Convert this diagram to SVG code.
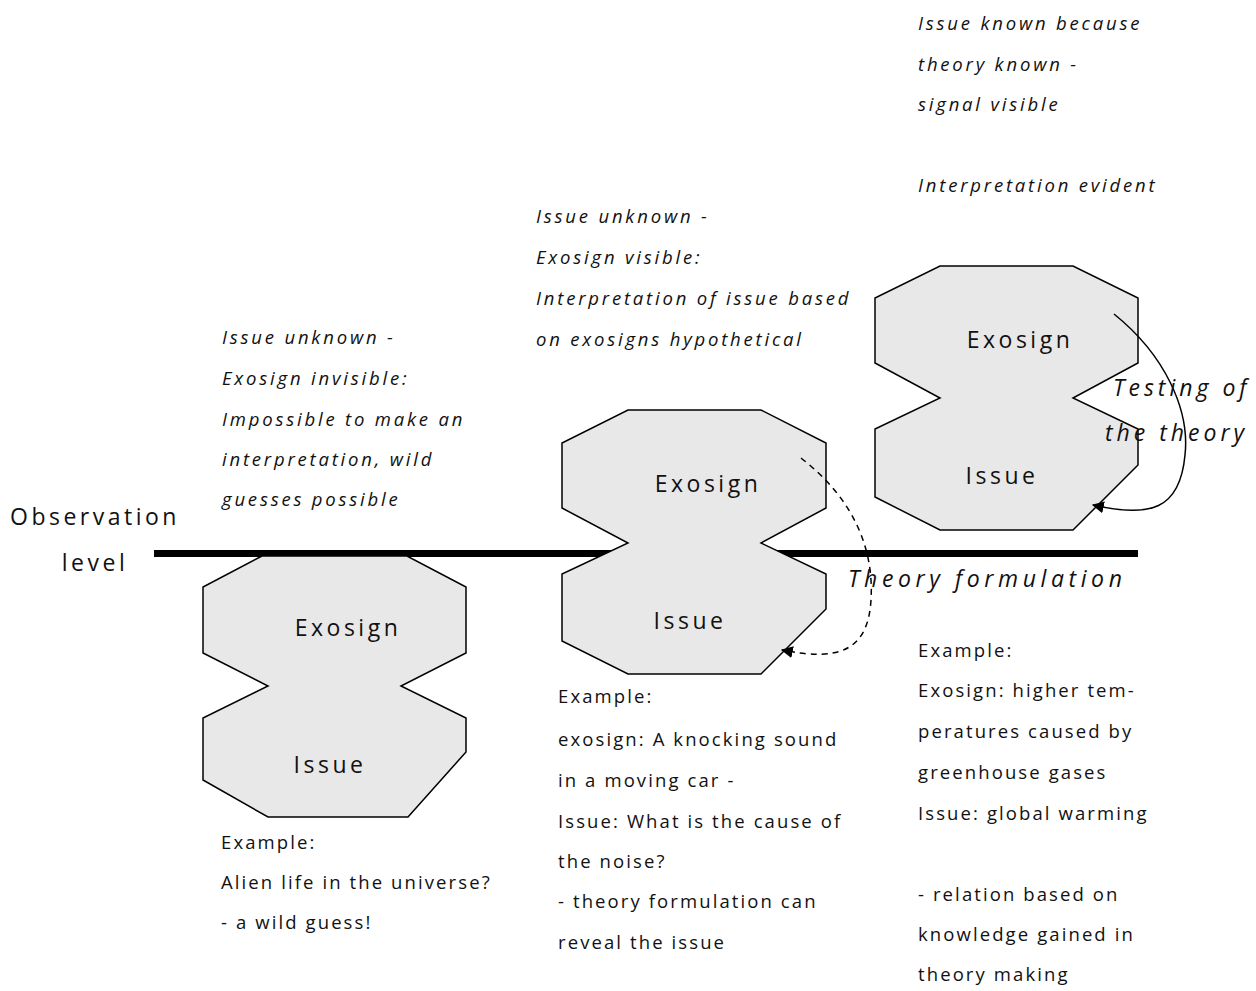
<svg xmlns="http://www.w3.org/2000/svg" width="1256" height="991" viewBox="0 0 1256 991">
<style>
.shape{fill:#e8e8e8;stroke:#000;stroke-width:1.5;stroke-linejoin:miter}
.lbl{font-family:"Open Sans","Liberation Sans",sans-serif;font-size:23px;letter-spacing:3.5px;fill:#111}
.lbli{font-family:"Open Sans","Liberation Sans",sans-serif;font-size:23px;letter-spacing:4px;font-style:italic;fill:#111}
.txt{font-family:"Open Sans","Liberation Sans",sans-serif;font-size:18.5px;letter-spacing:2.1px;fill:#111}
.txti{font-family:"Open Sans","Liberation Sans",sans-serif;font-size:18.5px;letter-spacing:2.8px;font-style:italic;fill:#111}
.conn{fill:none;stroke:#000;stroke-width:1.5}
</style>
<defs>
<marker id="ah" viewBox="0 0 10 10" refX="9" refY="5" markerWidth="12" markerHeight="12" markerUnits="userSpaceOnUse" orient="auto">
<path d="M0,0 L10,5 L0,10 Z" fill="#000"/>
</marker>
</defs>
<rect width="1256" height="991" fill="#fff"/>
<line x1="154" y1="553.5" x2="1138" y2="553.5" stroke="#000" stroke-width="7"/>
<g id="node1">
<polygon class="shape" points="262,556 407,556 466,587 466,653 401,686 466,718 466,752 408,817 268,817 203,780 203,718 268,686 203,653 203,587"/>
<text class="lbl" x="348" y="636" text-anchor="middle">Exosign</text>
<text class="lbl" x="330" y="773" text-anchor="middle">Issue</text>
</g>
<g id="node2">
<polygon class="shape" points="628,410 761,410 826,443 826,508 761,543 826,574 826,609 761,674 628,674 562,641 562,574 628,543 562,508 562,443"/>
<text class="lbl" x="708" y="492" text-anchor="middle">Exosign</text>
<text class="lbl" x="690" y="629" text-anchor="middle">Issue</text>
</g>
<g id="node3">
<polygon class="shape" points="940,266 1073,266 1138,298 1138,363 1073,398 1138,429 1138,465 1073,530 940,530 875,497 875,429 940,398 875,363 875,298"/>
<text class="lbl" x="1020" y="348" text-anchor="middle">Exosign</text>
<text class="lbl" x="1002" y="484" text-anchor="middle">Issue</text>
</g>
<g id="obs">
<text class="lbl" x="95" y="525" text-anchor="middle">Observation</text>
<text class="lbl" x="95" y="571" text-anchor="middle">level</text>
</g>
<g id="connectors">
<path class="conn" d="M801,458 C855,500 874,550 871,600 C868,650 840,662 782,650" stroke-dasharray="6,5" marker-end="url(#ah)"/>
<path class="conn" d="M1114,314 C1165,355 1190,410 1185,455 C1180,510 1150,518 1093,505" marker-end="url(#ah)"/>
</g>
<g id="labels">
<text class="lbli" x="848" y="587" style="letter-spacing:4.6px">Theory formulation</text>
<text class="lbli" x="1113" y="396">Testing of</text>
<text class="lbli" x="1105" y="441">the theory</text>
</g>
<g id="desc1">
<text class="txti" x="222" y="344">Issue unknown -</text>
<text class="txti" x="222" y="385">Exosign invisible:</text>
<text class="txti" x="222" y="426">Impossible to make an</text>
<text class="txti" x="222" y="466">interpretation, wild</text>
<text class="txti" x="222" y="506">guesses possible</text>
</g>
<g id="desc2">
<text class="txti" x="536" y="223">Issue unknown -</text>
<text class="txti" x="536" y="264">Exosign visible:</text>
<text class="txti" x="536" y="305">Interpretation of issue based</text>
<text class="txti" x="536" y="346">on exosigns hypothetical</text>
</g>
<g id="desc3">
<text class="txti" x="918" y="30">Issue known because</text>
<text class="txti" x="918" y="71">theory known -</text>
<text class="txti" x="918" y="111">signal visible</text>
<text class="txti" x="918" y="192">Interpretation evident</text>
</g>
<g id="ex1">
<text class="txt" x="221" y="849">Example:</text>
<text class="txt" x="221" y="889">Alien life in the universe?</text>
<text class="txt" x="221" y="929">- a wild guess!</text>
</g>
<g id="ex2">
<text class="txt" x="558" y="703">Example:</text>
<text class="txt" x="558" y="746">exosign: A knocking sound</text>
<text class="txt" x="558" y="787">in a moving car  -</text>
<text class="txt" x="558" y="828">Issue: What is the cause of</text>
<text class="txt" x="558" y="868">the noise?</text>
<text class="txt" x="558" y="908">- theory formulation can</text>
<text class="txt" x="558" y="949">reveal the issue</text>
</g>
<g id="ex3">
<text class="txt" x="918" y="657">Example:</text>
<text class="txt" x="918" y="697">Exosign: higher tem-</text>
<text class="txt" x="918" y="738">peratures caused by</text>
<text class="txt" x="918" y="779">greenhouse gases</text>
<text class="txt" x="918" y="820">Issue: global warming</text>
<text class="txt" x="918" y="901">- relation based on</text>
<text class="txt" x="918" y="941">knowledge gained in</text>
<text class="txt" x="918" y="981">theory making</text>
</g>
</svg>
